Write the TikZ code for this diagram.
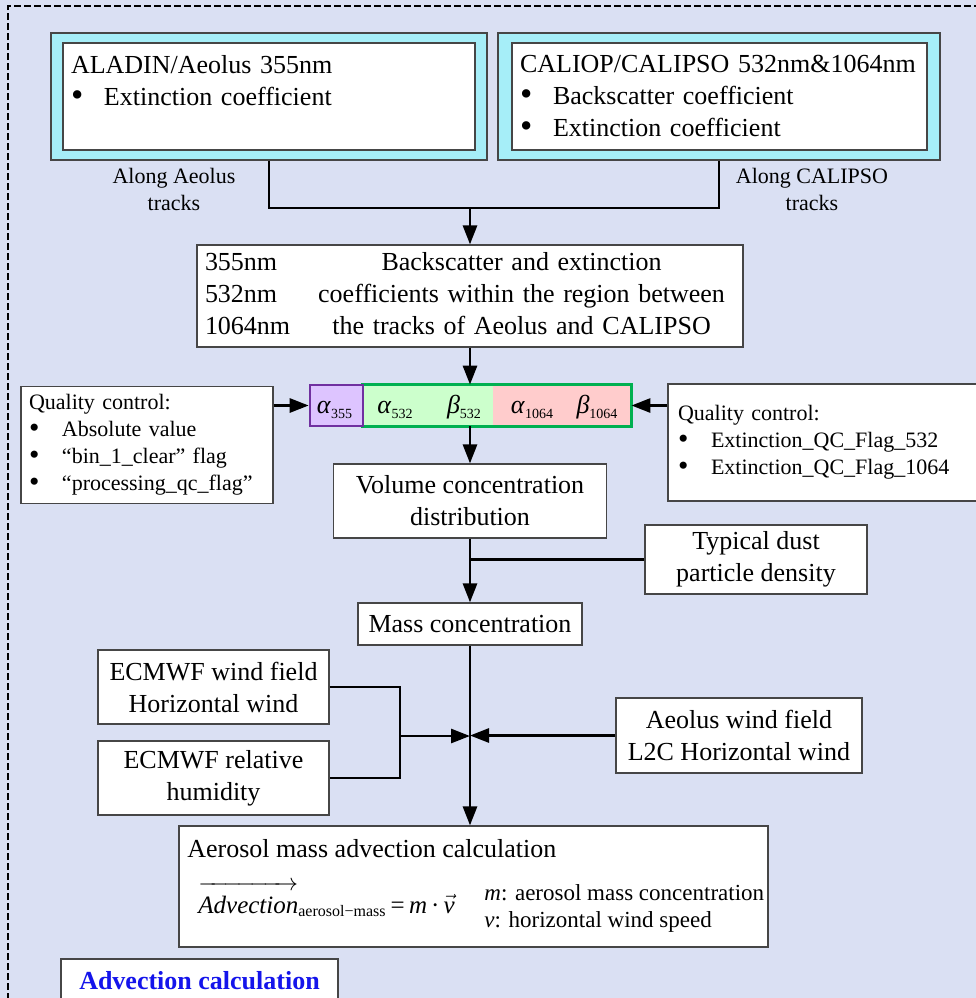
\documentclass[tikz,border=0pt]{standalone}
\usepackage{fontspec}
\usepackage{graphicx}
\setmainfont{Liberation Serif}
\usetikzlibrary{arrows.meta}

\definecolor{bgfill}{RGB}{218,224,243}
\definecolor{trackcyan}{RGB}{166,238,248}
\definecolor{framegray}{RGB}{70,70,70}
\definecolor{qcpurple}{RGB}{112,48,160}
\definecolor{purplefill}{RGB}{221,196,255}
\definecolor{qcgreen}{RGB}{0,176,80}
\definecolor{greenfill}{RGB}{204,255,204}
\definecolor{pinkfill}{RGB}{255,204,204}
\definecolor{advblue}{RGB}{20,20,235}

\tikzset{
  bigfont/.style={font=\fontsize{13pt}{16pt}\selectfont},
  smallfont/.style={font=\fontsize{11pt}{13.5pt}\selectfont},
  plainbox/.style={draw=framegray, line width=0.6pt, fill=white, inner sep=0pt, bigfont},
  sensorbox/.style={draw=framegray, line width=0.6pt, fill=trackcyan, inner sep=0pt},
  stripcell/.style={inner sep=0pt, minimum height=20.5pt},
  coeflabel/.style={anchor=base, inner sep=0pt, bigfont},
  flow/.style={line width=1.4pt},
  flowarrow/.style={flow, -{Triangle[length=9.5pt,width=7pt]}},
}
\newcommand{\bigbullet}{\raisebox{-0.5pt}{\scalebox{1.35}{\textbullet}}}
\newcommand{\bulletitem}[2][16.5pt]{\makebox[#1][l]{\bigbullet}#2}
\newcommand{\coef}[2]{\textit{#1}\raisebox{-2.5pt}{\fontsize{7pt}{7pt}\selectfont #2}}

\begin{document}
\begin{tikzpicture}[x=0.5pt,y=-0.5pt]
    \useasboundingbox (0,0) rectangle (976,998);
    \clip (0,0) rectangle (976,998);
    \fill[bgfill] (0,0) rectangle (976,998);
    \draw[line width=0.6pt, dash pattern=on 3.5pt off 1.5pt] (8,1010) |- (990,6);

    % lidar sources
    \node[sensorbox, minimum width=218pt, minimum height=63.5pt] (aladinframe) at (269,96.5) {};
    \node[plainbox, text width=198pt, inner xsep=4pt, minimum height=53.5pt, align=left] (aladin) at (269,96.5)
        {ALADIN/Aeolus 355nm\\ \bulletitem{Extinction coefficient}\\ \mbox{}};
    \node[sensorbox, minimum width=221pt, minimum height=63.5pt] (caliopframe) at (719,96.5) {};
    \node[plainbox, text width=199.5pt, inner xsep=4pt, minimum height=53.5pt, align=left] (caliop) at (719.5,96.5)
        {CALIOP/CALIPSO 532nm\&1064nm\\ \bulletitem{Backscatter coefficient}\\ \bulletitem{Extinction coefficient}};
    \node[smallfont, align=center, inner sep=0pt] (aeolustrack) at (174,189) {Along Aeolus\\ tracks};
    \node[smallfont, align=center, inner sep=0pt] (calipsotrack) at (812,189) {Along CALIPSO\\ tracks};

    \node[plainbox, text width=265pt, inner xsep=4pt, minimum height=51pt, align=left] (region) at (470,296)
        {\begin{tabular}{@{}l@{\hspace{14pt}}c@{}}
         355nm & Backscatter and extinction\\
         532nm & coefficients within the region between\\
         1064nm & the tracks of Aeolus and CALIPSO
         \end{tabular}};

    % coefficient strip
    \node[stripcell, fill=greenfill, minimum width=65pt] (g532) at (428,405.5) {};
    \node[stripcell, fill=pinkfill, minimum width=69pt] (p1064) at (562,405.5) {};
    \draw[qcgreen, line width=1.3pt] (g532.north west) rectangle (p1064.south east);
    \node[stripcell, fill=purplefill, draw=qcpurple, line width=1.3pt, minimum width=26.5pt] (a355) at (336.5,405.5) {};
    \node[coeflabel] (l355) at (334.5,413) {\coef{α}{355}};
    \node[coeflabel] (la532) at (395,413) {\coef{α}{532}};
    \node[coeflabel] (lb532) at (464,413) {\coef{β}{532}};
    \node[coeflabel] (la1064) at (532,413) {\coef{α}{1064}};
    \node[coeflabel] (lb1064) at (597,413) {\coef{β}{1064}};

    \node[plainbox, smallfont, text width=118pt, inner xsep=4pt, minimum height=58.5pt, align=left] (qcaeolus) at (147,445)
        {Quality control:\\ \bulletitem{Absolute value}\\ \bulletitem{“bin\_1\_clear” flag}\\ \bulletitem{“processing\_qc\_flag”}};
    \node[plainbox, smallfont, text width=156pt, inner xsep=5pt, minimum height=58.5pt, align=left] (qccalipso) at (834,442.5)
        {Quality control:\\ \bulletitem{Extinction\_QC\_Flag\_532}\\ \bulletitem{Extinction\_QC\_Flag\_1064}};

    % mass chain
    \node[plainbox, align=center, minimum width=136.5pt, minimum height=37pt] (volume) at (470,501) {Volume concentration\\ distribution};
    \node[plainbox, align=center, minimum width=111pt, minimum height=34.5pt] (typical) at (756,559.5) {Typical dust\\ particle density};
    \node[plainbox, minimum width=112pt, minimum height=21pt] (mass) at (470,624) {Mass concentration};

    \node[plainbox, align=center, minimum width=115.5pt, minimum height=37pt] (ecwind) at (213.5,687) {ECMWF wind field\\ Horizontal wind};
    \node[plainbox, align=center, minimum width=115.5pt, minimum height=37pt] (ecrh) at (213.5,778) {ECMWF relative\\ humidity};
    \node[plainbox, align=center, minimum width=123pt, minimum height=37.5pt] (aeoluswind) at (739,735.5) {Aeolus wind field\\ L2C Horizontal wind};

    \node[plainbox, minimum width=294.5pt, minimum height=60.5pt] (aerosol) at (473.5,886.5) {};
    \node[bigfont, anchor=base west, inner sep=0pt] (aerotitle) at (187,857) {Aerosol mass advection calculation};
    \node[anchor=base west, inner sep=0pt, font=\fontsize{12.5pt}{15pt}\selectfont] (aeroformula) at (198,913)
        {$\overrightarrow{\mbox{\itshape Advection\rule{0pt}{12.5pt}}}_{\mbox{\fontsize{8pt}{9pt}\selectfont aerosol−mass}}$\,=\,\textit{m}\,·\,$\vec{\mbox{\itshape v}}$};
    \node[font=\fontsize{11.5pt}{13.5pt}\selectfont, align=left, anchor=west, inner sep=0pt] (aerolegend) at (484,908)
        {\textit{m}: aerosol mass concentration\\ \textit{v}: horizontal wind speed};

    \node[plainbox, minimum width=138.5pt, minimum height=22pt, font=\fontsize{13pt}{16pt}\selectfont\bfseries, text=advblue] (advcalc) at (199.5,981) {Advection calculation};

    % connectors
    \coordinate (trackjoin) at (470,208);
    \coordinate (windjoin) at (400,736);
    \draw[flow] (aladinframe.south) |- (trackjoin) -| (caliopframe.south);
    \draw[flowarrow] (trackjoin) -- (region.north);
    \draw[flowarrow] (region.south) -- (region.south |- g532.north);
    \draw[flowarrow] (qcaeolus.east |- a355.west) -- (a355.west);
    \draw[flowarrow] (qccalipso.west |- p1064.east) -- (p1064.east);
    \draw[flowarrow] (region.south |- g532.south) -- (volume.north);
    \draw[flowarrow] (volume.south) -- (mass.north);
    \draw[flow] (typical.west) -- (typical.west -| volume.south);
    \draw[flowarrow] (mass.south) -- (mass.south |- aerosol.north);
    \draw[flow] (ecwind.east) -| (windjoin) |- (ecrh.east);
    \draw[flowarrow] (windjoin) -- (windjoin -| mass.south);
    \draw[flowarrow] (aeoluswind.west) -- (aeoluswind.west -| mass.south);
\end{tikzpicture}
\end{document}
